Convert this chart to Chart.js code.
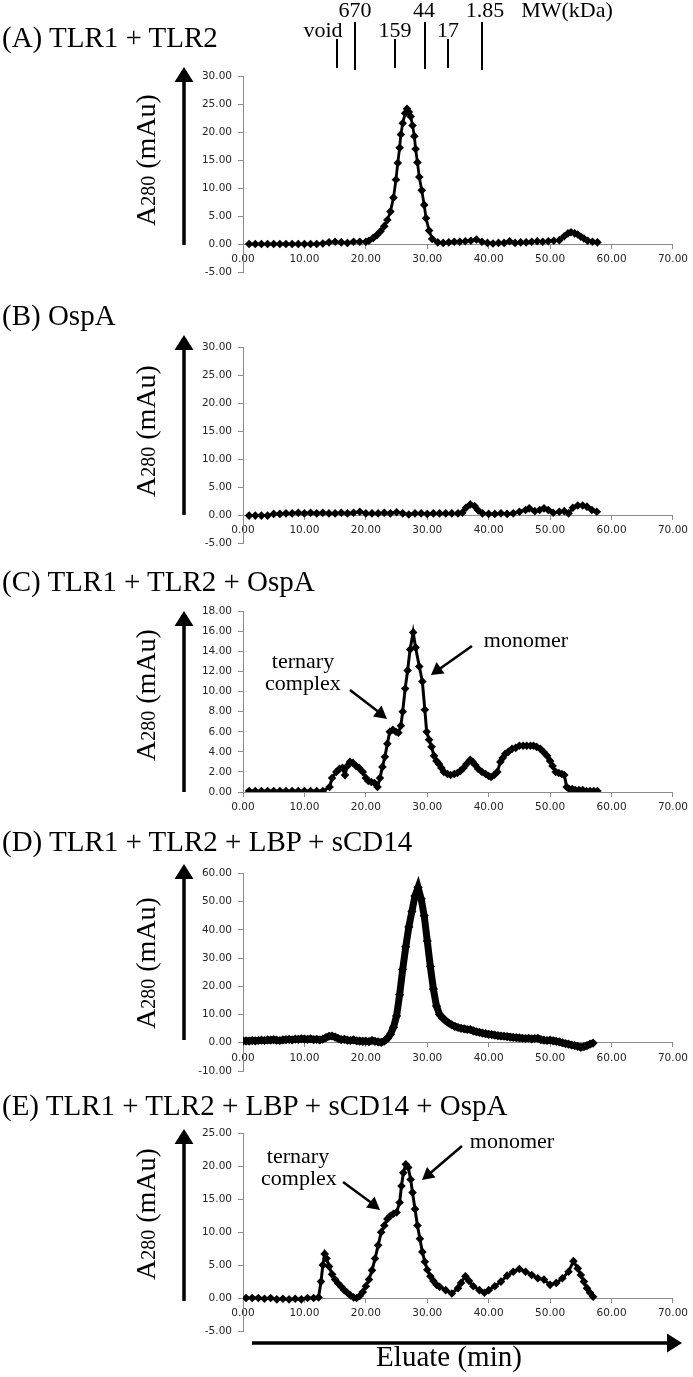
<!DOCTYPE html>
<html><head><meta charset="utf-8">
<script src="https://cdn.jsdelivr.net/npm/chart.js@4.4.1/dist/chart.umd.min.js"></script>
<style>
html,body{margin:0;padding:0;background:#fff;}
#wrap{position:relative;width:693px;height:1377px;overflow:hidden;background:#fff;}
#wrap canvas{position:absolute;left:180px;}
#ov{position:absolute;left:0;top:0;}
.t{font-family:'Liberation Serif','Times New Roman',serif;fill:#000;}
</style></head><body>
<div id="wrap">
<canvas id="cA" width="513" height="232" style="top:64px"></canvas>
<canvas id="cB" width="513" height="232" style="top:335px"></canvas>
<canvas id="cC" width="513" height="217" style="top:599px"></canvas>
<canvas id="cD" width="513" height="234" style="top:861px"></canvas>
<canvas id="cE" width="513" height="234" style="top:1121px"></canvas>
<svg id="ov" width="693" height="1377" xmlns="http://www.w3.org/2000/svg">
  <!-- panel titles -->
  <text class="t" x="2" y="47" font-size="29">(A) TLR1 + TLR2</text>
  <text class="t" x="2" y="325" font-size="29">(B) OspA</text>
  <text class="t" x="2" y="591" font-size="29">(C) TLR1 + TLR2 + OspA</text>
  <text class="t" x="2" y="851" font-size="29">(D) TLR1 + TLR2 + LBP + sCD14</text>
  <text class="t" x="2" y="1115" font-size="29">(E) TLR1 + TLR2 + LBP + sCD14 + OspA</text>
  <!-- MW markers -->
  <g class="t" font-size="22" text-anchor="middle">
    <text x="355" y="17">670</text>
    <text x="424" y="17">44</text>
    <text x="485" y="17">1.85</text>
    <text x="567" y="17">MW(kDa)</text>
    <text x="323" y="37">void</text>
    <text x="395" y="37">159</text>
    <text x="448" y="37">17</text>
  </g>
  <g stroke="#000" stroke-width="2">
    <line x1="337" y1="39" x2="337" y2="68"/>
    <line x1="355" y1="22" x2="355" y2="70"/>
    <line x1="395" y1="39" x2="395" y2="68"/>
    <line x1="425" y1="22" x2="425" y2="69"/>
    <line x1="448" y1="39" x2="448" y2="68"/>
    <line x1="482" y1="22" x2="482" y2="70"/>
  </g>
  <!-- y axis arrows -->
  <g stroke="#000" stroke-width="3.5" fill="#000">
    <line x1="184" y1="245" x2="184" y2="78"/>
    <polygon stroke="none" points="184,67 174.5,82 193.5,82"/>
    <line x1="184" y1="515" x2="184" y2="346"/>
    <polygon stroke="none" points="184,335 174.5,350 193.5,350"/>
    <line x1="184" y1="792" x2="184" y2="622"/>
    <polygon stroke="none" points="184,611 174.5,626 193.5,626"/>
    <line x1="184" y1="1040" x2="184" y2="875"/>
    <polygon stroke="none" points="184,864 174.5,879 193.5,879"/>
    <line x1="184" y1="1301" x2="184" y2="1140"/>
    <polygon stroke="none" points="184,1129 174.5,1144 193.5,1144"/>
    <line x1="252" y1="1343" x2="670" y2="1343"/>
    <polygon stroke="none" points="682,1343 667,1333.5 667,1352.5"/>
  </g>
  <!-- y labels -->
  <g class="t" font-size="28" text-anchor="middle">
    <text transform="translate(155,160) rotate(-90)">A<tspan font-size="20">280</tspan> (mAu)</text>
    <text transform="translate(155,431) rotate(-90)">A<tspan font-size="20">280</tspan> (mAu)</text>
    <text transform="translate(155,695) rotate(-90)">A<tspan font-size="20">280</tspan> (mAu)</text>
    <text transform="translate(155,963) rotate(-90)">A<tspan font-size="20">280</tspan> (mAu)</text>
    <text transform="translate(155,1214) rotate(-90)">A<tspan font-size="20">280</tspan> (mAu)</text>
  </g>
  <text class="t" x="449" y="1366" font-size="29" text-anchor="middle">Eluate (min)</text>
  <!-- annotations -->
  <g class="t" font-size="22" text-anchor="middle">
    <text x="303" y="668">ternary</text>
    <text x="303" y="690">complex</text>
    <text x="526" y="647">monomer</text>
    <text x="298" y="1163">ternary</text>
    <text x="299" y="1185">complex</text>
    <text x="512" y="1148">monomer</text>
  </g>
  <g stroke="#000" stroke-width="2.5" fill="#000">
    <line x1="350" y1="690" x2="380" y2="713"/>
    <polygon stroke="none" points="387,719 373,716.5 381.5,705.5"/>
    <line x1="472" y1="646" x2="438" y2="670"/>
    <polygon stroke="none" points="431,675 436.5,662 444.5,673.5"/>
    <line x1="343" y1="1182" x2="373" y2="1204"/>
    <polygon stroke="none" points="380,1210 366,1207.5 374.5,1196.5"/>
    <line x1="462" y1="1146" x2="428" y2="1175"/>
    <polygon stroke="none" points="422,1180 427,1167 435.5,1177.5"/>
  </g>
</svg>
</div>
<script>
// ---- data (elution time in min, A280 in mAu) ----
const xTickLabels = ['0.00','10.00','20.00','30.00','40.00','50.00','60.00','70.00'];

const timesA = [1,2,3,4,5,6,7,8,9,10,11,12,13,14,15,16,17,18,19,20,
  20.5,21.2,21.8,22.4,23,23.5,24,24.5,24.9,25.2,
  25.5,25.7,26,26.4,26.7,27,27.3,27.6,27.9,28.1,
  28.4,28.7,29.1,29.5,29.8,30.3,30.8,31.7,32.6,33.5,
  34.4,35.3,36.2,37.1,38,38.9,39.8,40.7,41.6,42.5,
  43.4,44.3,45.2,46.1,47,47.9,48.8,49.7,50.6,51.5,
  52.3,52.9,53.4,54,54.5,55,55.5,56.1,56.9,57.7];
const valuesA = [0,0,0,0,0,0,0,0,0,0,0,0,0.1,0.3,0.4,0.3,0.2,0.4,0.4,0.4,
  0.6,1.1,1.6,2.3,3.2,4.3,5.8,8.3,11.5,14.5,
  17.2,19.6,21.6,23.4,24.2,23.6,22.8,21.2,19.3,17.0,
  14.6,12.0,9.6,7.0,4.6,2.4,0.9,0.3,0.2,0.3,
  0.4,0.4,0.5,0.6,0.8,0.4,0.2,0.1,0.2,0.2,
  0.5,0.2,0.3,0.3,0.4,0.5,0.4,0.5,0.6,0.7,
  1.4,1.9,2.1,1.9,1.7,1.3,1.0,0.6,0.4,0.3];

const timesB = [1,2,3,4,5,6,7,8,9,10,11,12,13,14,15,16,17,18,19,20,
  21,22,23,24,25,26,27,28,29,30,31,32,33,34,35,
  35.7,36.3,37,37.7,38.3,39,40,41,42,43,
  44,45,46,46.6,47.5,48.3,49,49.7,50.5,51.5,
  52.3,53,53.7,54.5,55.3,56,56.8,57.6];
const valuesB = [-0.1,-0.1,-0.1,-0.1,0.2,0.2,0.3,0.3,0.4,0.3,0.4,0.3,0.4,0.3,0.3,0.4,0.3,0.4,0.6,0.3,
  0.3,0.3,0.4,0.3,0.5,0.3,0.1,0.3,0.3,0.2,0.3,0.3,0.3,0.3,0.3,
  0.4,1.3,1.9,1.6,0.8,0.3,0.2,0.2,0.3,0.2,
  0.3,0.6,0.9,1.2,0.7,0.9,1.2,0.9,0.4,0.6,
  0.7,0.3,1.3,1.7,1.7,1.5,0.9,0.6];

const timesC = [1,2,3,4,5,6,7,8,9,10,11,12,13,
  14.1,14.5,15.2,15.7,16.2,16.6,17.0,17.4,17.9,18.4,
  18.9,19.5,20.0,20.4,20.9,21.4,21.9,22.3,22.7,23.1,
  23.5,23.9,24.4,24.9,25.3,25.7,26.0,26.4,26.8,27.2,
  27.7,28.1,28.7,29.2,29.6,29.9,30.3,30.7,31.1,31.5,
  31.9,32.3,32.7,33.3,33.8,34.4,34.9,35.4,35.9,36.4,
  37.0,37.4,37.8,38.3,38.9,39.5,40.0,40.4,40.9,41.4,
  41.9,42.3,42.7,43.2,43.8,44.4,45.0,45.6,46.2,46.8,
  47.3,47.8,48.4,48.9,49.5,50.0,50.4,50.9,51.4,51.9,
  52.3,52.7,53.1,53.6,54.1,54.7,55.3,55.9,56.5,57.1,
  57.7];
const valuesC = [0.1,0.1,0.1,0.1,0.1,0.1,0.1,0.1,0.1,0.1,0.1,0.1,0.1,
  0.5,1.4,2.0,2.3,2.4,1.7,2.6,3.0,2.9,2.6,
  2.4,2.0,1.4,1.1,1.0,0.9,0.5,1.4,2.5,3.5,
  4.8,6.0,6.2,6.0,5.9,6.6,8.0,10.3,12.1,14.2,
  15.9,14.4,12.5,11.0,8.2,6.0,5.2,4.5,3.6,3.1,
  2.8,2.4,2.0,1.8,1.7,1.8,1.9,2.1,2.4,2.8,
  3.2,3.0,2.7,2.3,2.0,1.8,1.6,1.5,1.7,2.0,
  3.0,3.4,3.8,4.0,4.3,4.4,4.6,4.6,4.6,4.6,
  4.6,4.5,4.3,4.0,3.6,3.1,2.6,2.0,1.9,1.8,
  1.7,0.5,0.3,0.3,0.2,0.2,0.2,0.1,0.1,0.1,
  0.1];

const timesD = [0,0.5,1,1.5,2,2.5,3,3.5,4,4.5,
  5,5.5,6,6.5,7,7.5,8,8.5,9,9.5,
  10,10.5,11,11.5,12,12.5,13,13.5,14,14.5,
  15,15.5,16,16.5,17,17.5,18,18.5,19,19.5,
  20,20.5,21,21.5,22,22.5,23,23.5,24,24.5,
  25,25.5,26,26.5,27,27.5,28,28.5,29,29.5,
  30,30.5,31,31.5,32,32.5,33,33.5,34,34.5,
  35,35.5,36,36.5,37,37.5,38,38.5,39,39.5,
  40,40.5,41,41.5,42,42.5,43,43.5,44,44.5,
  45,45.5,46,46.5,47,47.5,48,48.5,49,49.5,
  50,50.5,51,51.5,52,52.5,53,53.5,54,54.5,
  55,55.5,56,56.5,57];
const valuesD = [0.6,0.7,0.6,0.8,0.7,0.8,0.9,0.8,1.0,0.9,
  1.1,0.9,0.8,1.0,1.1,1.2,1.0,1.3,1.2,1.4,
  1.3,1.2,1.4,1.1,1.2,1.0,1.3,1.8,2.3,2.4,
  2.0,1.5,1.1,1.2,0.9,0.8,1.0,0.7,0.6,0.5,
  0.6,0.4,0.8,0.5,0.3,0.1,0.6,1.5,3.0,5.5,
  9.5,17,26,34,41,46.5,52,55,51,45,
  36,27,19,13,10,8.8,7.8,7.0,6.3,5.8,
  5.4,5.1,4.9,4.7,4.7,4.2,3.9,3.7,3.4,3.2,
  3.0,2.9,2.7,2.5,2.4,2.3,2.2,2.0,1.9,1.8,
  1.7,1.6,1.5,1.6,1.4,1.5,1.6,1.1,0.9,0.8,
  0.9,0.7,0.5,0.3,0.0,-0.3,-0.5,-0.8,-1.0,-1.3,
  -1.6,-1.4,-1.0,-0.5,-0.1];

const timesE = [0.5,1.5,2.5,3.5,4.5,5.5,6.5,7.5,8.5,9.5,
  10.5,11.5,12.3,12.7,13.0,13.3,13.6,14.0,14.5,15.0,
  15.5,16.0,16.5,17.0,17.5,18.0,18.5,19.0,19.5,20.0,
  20.5,21.0,21.5,22.0,22.5,23.0,23.5,24.0,24.5,25.0,
  25.5,25.8,26.1,26.5,26.9,27.3,27.6,28.0,28.4,28.8,
  29.2,29.6,30.0,30.5,31.0,31.5,32.0,33.0,34.0,35.0,
  35.5,36.2,36.8,37.5,38.5,39.3,40.0,41.0,42.0,43.0,
  44.0,45.0,46.0,47.0,48.0,49.0,50.0,51.0,52.0,53.0,
  53.8,54.5,55.0,55.5,56.0,56.5,57.0];
const valuesE = [0,0,0,-0.1,0,-0.2,-0.1,-0.2,-0.1,-0.2,
  0,0,0.1,2.5,5.0,6.7,6.0,4.8,3.6,2.8,
  2.2,1.7,1.2,0.8,0.4,0.1,0,0.3,0.9,1.8,
  2.8,4.2,6.0,8.0,10.0,11.0,12.0,12.5,12.8,13.0,
  14.5,17.0,19.0,20.3,19.8,18.0,16.0,13.5,11.0,9.0,
  7.0,5.5,4.3,3.3,2.6,2.0,1.7,1.2,0.7,1.5,
  2.3,3.3,2.6,1.8,1.2,0.8,1.2,1.8,2.5,3.4,
  4.0,4.4,4.0,3.5,3.0,2.8,2.0,2.3,3.0,4.0,
  5.6,4.5,3.5,2.5,1.5,0.8,0.2];

const yRangeA = [-5, 30, 5];
const yRangeB = [-5, 30, 5];
const yRangeC = [0, 18, 2];
const yRangeD = [-10, 60, 10];
const yRangeE = [-5, 25, 5];

// ---- drawing ----
function makePanel(canvasId, times, values, yRange, style) {
  const pts = times.map((t, i) => ({x: t, y: values[i]}));
  const tickFont = {family: "'DejaVu Sans', sans-serif", size: 10.5};
  new Chart(document.getElementById(canvasId), {
    type: 'scatter',
    data: {datasets: [{
      data: pts, showLine: true, tension: 0,
      borderColor: '#000', backgroundColor: '#000',
      borderWidth: style.lw,
      pointStyle: 'rectRot', pointRadius: style.r, pointBorderWidth: 0,
      pointBackgroundColor: '#000'
    }]},
    options: {
      responsive: false, animation: false, devicePixelRatio: 1,
      layout: {padding: {top: 10, bottom: 24, left: 0, right: 18}},
      plugins: {legend: {display: false}, tooltip: {enabled: false}, title: {display: false}},
      scales: {
        x: {
          type: 'linear', min: 0, max: 70, position: {y: 0},
          ticks: {stepSize: 10, maxRotation: 0, autoSkip: false, padding: 5, font: tickFont, color: '#262626',
                  callback: (v) => xTickLabels[Math.round(v / 10)]},
          grid: {drawOnChartArea: false, drawTicks: true, tickLength: 4, color: '#8c8c8c'},
          border: {display: true, color: '#8c8c8c', width: 1},
          afterFit: (s) => { s.height = 0; }
        },
        y: {
          min: yRange[0], max: yRange[1],
          ticks: {stepSize: yRange[2], padding: 6, font: tickFont, color: '#262626',
                  callback: (v) => Number(v).toFixed(2)},
          grid: {drawOnChartArea: false, drawTicks: true, tickLength: 5, color: '#8c8c8c'},
          border: {display: true, color: '#8c8c8c', width: 1},
          afterFit: (s) => { s.width = 63; }
        }
      }
    }
  });
}

makePanel('cA', timesA, valuesA, yRangeA, {lw: 2.8, r: 4.3});
makePanel('cB', timesB, valuesB, yRangeB, {lw: 2.8, r: 4.3});
makePanel('cC', timesC, valuesC, yRangeC, {lw: 3, r: 4.3});
makePanel('cD', timesD, valuesD, yRangeD, {lw: 7, r: 4.6});
makePanel('cE', timesE, valuesE, yRangeE, {lw: 3, r: 4.3});
</script>
</body></html>
